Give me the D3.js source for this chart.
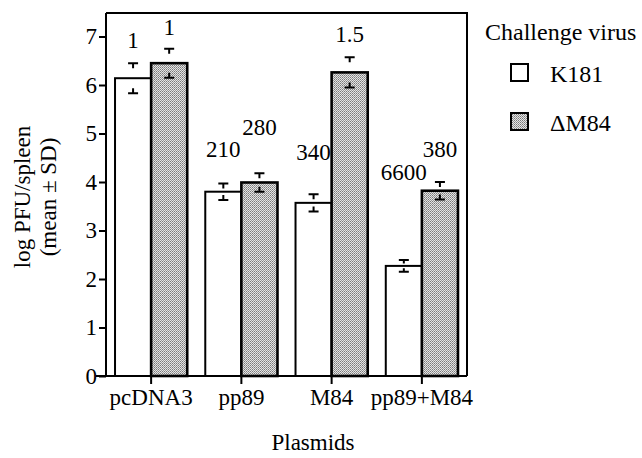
<!DOCTYPE html>
<html>
<head>
<meta charset="utf-8">
<script src="https://cdn.jsdelivr.net/npm/d3@7/dist/d3.min.js"></script>
<style>
  body { margin: 0; background: #fff; }
  svg text { font-family: "Liberation Serif", "Times New Roman", serif; }
</style>
</head>
<body>
<svg id="chart" width="642" height="458"></svg>
<script>
// data
const plasmids = ["pcDNA3", "pp89", "M84", "pp89+M84"];
const viruses = ["K181", "\u0394M84"];
const k181Mean = [6.14, 3.80, 3.57, 2.27];
const k181Sd = [0.31, 0.17, 0.18, 0.12];
const dm84Mean = [6.45, 3.99, 6.26, 3.82];
const dm84Sd = [0.30, 0.19, 0.31, 0.18];
// numbers printed over the bars and the level (log units) where they sit
const k181Label = ["1", "210", "340", "6600"];
const dm84Label = ["1", "280", "1.5", "380"];
const k181LabelAt = [6.76, 4.52, 4.45, 4.04];
const dm84LabelAt = [7.03, 4.97, 6.89, 4.52];
const yTicks = [0, 1, 2, 3, 4, 5, 6, 7];

const svg = d3.select("#chart");
const width = 642, height = 458;
let margin = { top: 13, right: 175, bottom: 82, left: 106 };
let bodyWidth = width - margin.left - margin.right;
let bodyHeight = height - margin.top - margin.bottom;
const fontSize = 23;

// dithered grey like the scan
const defs = svg.append("defs");
const pat = defs.append("pattern")
    .attr("id", "dots")
    .attr("width", 2).attr("height", 2)
    .attr("patternUnits", "userSpaceOnUse");
pat.append("rect").attr("width", 2).attr("height", 2).attr("fill", "#e4e4e4");
pat.append("rect").attr("x", 0).attr("y", 0).attr("width", 1).attr("height", 1).attr("fill", "#7a7a7a");
pat.append("rect").attr("x", 1).attr("y", 1).attr("width", 1).attr("height", 1).attr("fill", "#9a9a9a");

let xScale = d3.scaleBand()
    .domain(plasmids)
    .range([0, bodyWidth]);

let yScale = d3.scaleLinear()
    .domain([0, 7])
    .range([bodyHeight, bodyHeight - 7 * 48.5]);

const g = svg.append("g")
    .attr("transform", `translate(${margin.left},${margin.top})`);

const barW = xScale.bandwidth() * 0.4;

let rows = [];
plasmids.forEach((p, i) => {
    rows.push({ p, s: 0, mean: k181Mean[i], sd: k181Sd[i], label: k181Label[i], at: k181LabelAt[i] });
    rows.push({ p, s: 1, mean: dm84Mean[i], sd: dm84Sd[i], label: dm84Label[i], at: dm84LabelAt[i] });
});
const cx = d => xScale(d.p) + xScale.bandwidth() / 2 + (d.s === 0 ? -barW / 2 : barW / 2);

// frame (top + right)
g.append("path")
    .attr("d", `M0,0H${bodyWidth}V${bodyHeight}`)
    .attr("fill", "none").attr("stroke", "#000").attr("stroke-width", 2);

// bars
g.selectAll("rect.bar")
    .data(rows)
    .enter().append("rect")
    .attr("class", "bar")
    .attr("x", d => cx(d) - barW / 2)
    .attr("y", d => yScale(d.mean))
    .attr("width", barW)
    .attr("height", d => yScale(0) - yScale(d.mean))
    .attr("fill", d => d.s === 0 ? "#fff" : "url(#dots)")
    .attr("stroke", "#000")
    .attr("stroke-width", d => d.s === 0 ? 2 : 2.6);

// error bars: T above, inverted T below
const cap = 5;
rows.forEach(d => {
    const x = cx(d);
    const top = yScale(d.mean + d.sd), mid = yScale(d.mean), bot = yScale(d.mean - d.sd);
    const stem = Math.min(5, (mid - top) * 0.6);
    const eb = g.append("g").attr("stroke", "#000").attr("stroke-width", 2).attr("fill", "none");
    eb.append("path").attr("d", `M${x - cap},${top}H${x + cap}M${x},${top}V${top + stem}`);
    eb.append("path").attr("d", `M${x - cap},${bot}H${x + cap}M${x},${bot}V${bot - stem}`);
});

// numbers over bars
g.selectAll("text.num")
    .data(rows)
    .enter().append("text")
    .attr("class", "num")
    .attr("x", d => cx(d))
    .attr("y", d => yScale(d.at))
    .attr("text-anchor", "middle")
    .attr("font-size", fontSize)
    .text(d => d.label);

// axes
let axisY = d3.axisLeft(yScale).tickValues(yTicks).tickSize(7).tickPadding(2).tickFormat(d3.format("d"));
const ya = g.append("g").call(axisY).attr("font-family", null).attr("font-size", fontSize);
ya.select(".domain").attr("d", `M0,0V${bodyHeight}`).attr("stroke-width", 2);
ya.selectAll(".tick line").attr("stroke-width", 2);
ya.selectAll("text").attr("fill", "#000");

let axisX = d3.axisBottom(xScale).tickSize(8).tickPadding(5);
const xa = g.append("g").attr("transform", `translate(0,${bodyHeight})`).call(axisX)
    .attr("font-family", null).attr("font-size", fontSize);
xa.select(".domain").attr("d", `M-10,0H${bodyWidth}`).attr("stroke-width", 2);
xa.selectAll(".tick line").attr("stroke-width", 2);
xa.selectAll("text").attr("fill", "#000");

// axis titles
svg.append("text")
    .attr("x", 313).attr("y", 450)
    .attr("text-anchor", "middle").attr("font-size", fontSize)
    .text("Plasmids");

const yl = svg.append("text")
    .attr("transform", "translate(30,197) rotate(-90)")
    .attr("text-anchor", "middle").attr("font-size", fontSize);
yl.append("tspan").attr("x", 0).attr("y", 0).text("log PFU/spleen");
yl.append("tspan").attr("x", 0).attr("y", 26).text("(mean \u00b1 SD)");

// legend
const lg = svg.append("g").attr("font-size", 24);
lg.append("text").attr("x", 485).attr("y", 40).text("Challenge virus");
viruses.forEach((v, i) => {
    const yy = 64 + i * 49;
    lg.append("rect")
        .attr("x", 511).attr("y", yy).attr("width", 17).attr("height", 17)
        .attr("fill", i === 0 ? "#fff" : "url(#dots)")
        .attr("stroke", "#000").attr("stroke-width", 2);
    lg.append("text").attr("x", 550).attr("y", yy + 18).text(v);
});
</script>
</body>
</html>
